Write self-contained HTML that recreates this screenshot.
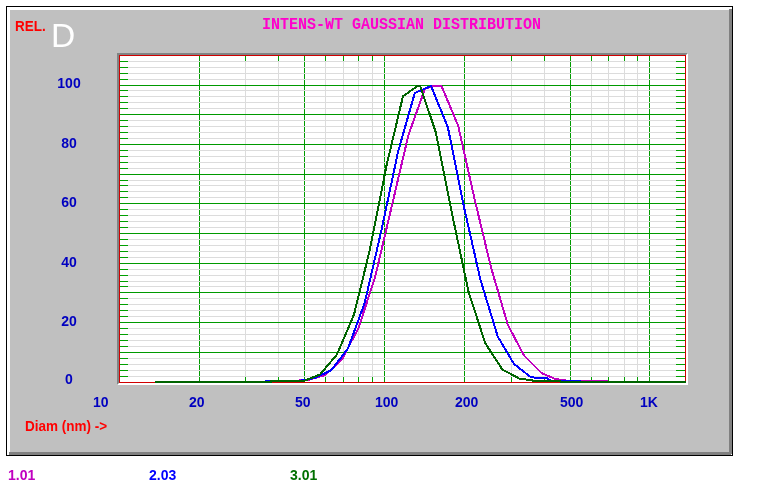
<!DOCTYPE html>
<html><head><meta charset="utf-8"><title>chart</title>
<style>
html,body{margin:0;padding:0;background:#fff;}
body{width:758px;height:496px;position:relative;overflow:hidden;font-family:"Liberation Sans",sans-serif;}
#frame{position:absolute;left:6px;top:6px;width:725px;height:448px;border:1px solid #000;background:#c0c0c0;}
.bv{position:absolute;}
#plotbevel{position:absolute;left:117px;top:53px;width:567px;height:328px;border-style:solid;border-width:2px;border-color:#808484 #fff #fff #808484;}
#plot{position:absolute;left:0;top:0;width:565px;height:326px;border:1px solid #d00000;background:#fff;}
svg{position:absolute;left:0;top:0;}
.t{position:absolute;white-space:nowrap;font-weight:bold;line-height:1;will-change:transform;-webkit-font-smoothing:antialiased;}
.b{color:#0000c0;font-size:14px;}
.r{color:#ff0000;font-size:13.5px;transform:scale(1,1.06);transform-origin:0 85%;}
</style></head><body>
<div id="frame"></div>
<div class="bv" style="left:729px;top:7px;width:3px;height:448px;background:#808080;"></div>
<div class="bv" style="left:7px;top:452px;width:725px;height:3px;background:#808080;"></div>
<div class="bv" style="left:7px;top:7px;width:725px;height:2px;background:#fff;"></div>
<div class="bv" style="left:7px;top:9px;width:722px;height:1px;background:#fff;"></div>
<div class="bv" style="left:7px;top:7px;width:2px;height:448px;background:#fff;"></div>
<div class="bv" style="left:9px;top:7px;width:1px;height:445px;background:#fff;"></div>
<div class="bv" style="left:731px;top:454px;width:1px;height:1px;background:#fff;"></div>
<div id="plotbevel"><div id="plot"></div></div>
<svg width="758" height="496" viewBox="0 0 758 496">
<g shape-rendering="crispEdges">
<rect x="245" y="56" width="1" height="326" fill="#dcdcdc"/>
<rect x="278" y="56" width="1" height="326" fill="#dcdcdc"/>
<rect x="325" y="56" width="1" height="326" fill="#dcdcdc"/>
<rect x="343" y="56" width="1" height="326" fill="#dcdcdc"/>
<rect x="358" y="56" width="1" height="326" fill="#dcdcdc"/>
<rect x="372" y="56" width="1" height="326" fill="#dcdcdc"/>
<rect x="511" y="56" width="1" height="326" fill="#dcdcdc"/>
<rect x="544" y="56" width="1" height="326" fill="#dcdcdc"/>
<rect x="591" y="56" width="1" height="326" fill="#dcdcdc"/>
<rect x="608" y="56" width="1" height="326" fill="#dcdcdc"/>
<rect x="624" y="56" width="1" height="326" fill="#dcdcdc"/>
<rect x="637" y="56" width="1" height="326" fill="#dcdcdc"/>
<rect x="199" y="56" width="1" height="326" fill="#009a00"/>
<rect x="304" y="56" width="1" height="326" fill="#009a00"/>
<rect x="384" y="56" width="1" height="326" fill="#009a00"/>
<rect x="464" y="56" width="1" height="326" fill="#009a00"/>
<rect x="570" y="56" width="1" height="326" fill="#009a00"/>
<rect x="649" y="56" width="1" height="326" fill="#009a00"/>
<rect x="120" y="376" width="565" height="1" fill="#dcdcdc"/>
<rect x="120" y="370" width="565" height="1" fill="#dcdcdc"/>
<rect x="120" y="364" width="565" height="1" fill="#dcdcdc"/>
<rect x="120" y="358" width="565" height="1" fill="#dcdcdc"/>
<rect x="120" y="346" width="565" height="1" fill="#dcdcdc"/>
<rect x="120" y="340" width="565" height="1" fill="#dcdcdc"/>
<rect x="120" y="334" width="565" height="1" fill="#dcdcdc"/>
<rect x="120" y="328" width="565" height="1" fill="#dcdcdc"/>
<rect x="120" y="316" width="565" height="1" fill="#dcdcdc"/>
<rect x="120" y="310" width="565" height="1" fill="#dcdcdc"/>
<rect x="120" y="304" width="565" height="1" fill="#dcdcdc"/>
<rect x="120" y="298" width="565" height="1" fill="#dcdcdc"/>
<rect x="120" y="286" width="565" height="1" fill="#dcdcdc"/>
<rect x="120" y="281" width="565" height="1" fill="#dcdcdc"/>
<rect x="120" y="275" width="565" height="1" fill="#dcdcdc"/>
<rect x="120" y="269" width="565" height="1" fill="#dcdcdc"/>
<rect x="120" y="257" width="565" height="1" fill="#dcdcdc"/>
<rect x="120" y="251" width="565" height="1" fill="#dcdcdc"/>
<rect x="120" y="245" width="565" height="1" fill="#dcdcdc"/>
<rect x="120" y="239" width="565" height="1" fill="#dcdcdc"/>
<rect x="120" y="227" width="565" height="1" fill="#dcdcdc"/>
<rect x="120" y="221" width="565" height="1" fill="#dcdcdc"/>
<rect x="120" y="215" width="565" height="1" fill="#dcdcdc"/>
<rect x="120" y="209" width="565" height="1" fill="#dcdcdc"/>
<rect x="120" y="197" width="565" height="1" fill="#dcdcdc"/>
<rect x="120" y="191" width="565" height="1" fill="#dcdcdc"/>
<rect x="120" y="185" width="565" height="1" fill="#dcdcdc"/>
<rect x="120" y="180" width="565" height="1" fill="#dcdcdc"/>
<rect x="120" y="168" width="565" height="1" fill="#dcdcdc"/>
<rect x="120" y="162" width="565" height="1" fill="#dcdcdc"/>
<rect x="120" y="156" width="565" height="1" fill="#dcdcdc"/>
<rect x="120" y="150" width="565" height="1" fill="#dcdcdc"/>
<rect x="120" y="138" width="565" height="1" fill="#dcdcdc"/>
<rect x="120" y="132" width="565" height="1" fill="#dcdcdc"/>
<rect x="120" y="126" width="565" height="1" fill="#dcdcdc"/>
<rect x="120" y="120" width="565" height="1" fill="#dcdcdc"/>
<rect x="120" y="108" width="565" height="1" fill="#dcdcdc"/>
<rect x="120" y="102" width="565" height="1" fill="#dcdcdc"/>
<rect x="120" y="96" width="565" height="1" fill="#dcdcdc"/>
<rect x="120" y="90" width="565" height="1" fill="#dcdcdc"/>
<rect x="120" y="79" width="565" height="1" fill="#dcdcdc"/>
<rect x="120" y="73" width="565" height="1" fill="#dcdcdc"/>
<rect x="120" y="67" width="565" height="1" fill="#dcdcdc"/>
<rect x="120" y="61" width="565" height="1" fill="#dcdcdc"/>
<rect x="245" y="56" width="1" height="5" fill="#00a000"/>
<rect x="245" y="377" width="1" height="5" fill="#00a000"/>
<rect x="278" y="56" width="1" height="5" fill="#00a000"/>
<rect x="278" y="377" width="1" height="5" fill="#00a000"/>
<rect x="325" y="56" width="1" height="5" fill="#00a000"/>
<rect x="325" y="377" width="1" height="5" fill="#00a000"/>
<rect x="343" y="56" width="1" height="5" fill="#00a000"/>
<rect x="343" y="377" width="1" height="5" fill="#00a000"/>
<rect x="358" y="56" width="1" height="5" fill="#00a000"/>
<rect x="358" y="377" width="1" height="5" fill="#00a000"/>
<rect x="372" y="56" width="1" height="5" fill="#00a000"/>
<rect x="372" y="377" width="1" height="5" fill="#00a000"/>
<rect x="511" y="56" width="1" height="5" fill="#00a000"/>
<rect x="511" y="377" width="1" height="5" fill="#00a000"/>
<rect x="544" y="56" width="1" height="5" fill="#00a000"/>
<rect x="544" y="377" width="1" height="5" fill="#00a000"/>
<rect x="591" y="56" width="1" height="5" fill="#00a000"/>
<rect x="591" y="377" width="1" height="5" fill="#00a000"/>
<rect x="608" y="56" width="1" height="5" fill="#00a000"/>
<rect x="608" y="377" width="1" height="5" fill="#00a000"/>
<rect x="624" y="56" width="1" height="5" fill="#00a000"/>
<rect x="624" y="377" width="1" height="5" fill="#00a000"/>
<rect x="637" y="56" width="1" height="5" fill="#00a000"/>
<rect x="637" y="377" width="1" height="5" fill="#00a000"/>
<rect x="120" y="376" width="8" height="1" fill="#00a000"/>
<rect x="676" y="376" width="9" height="1" fill="#00a000"/>
<rect x="120" y="370" width="8" height="1" fill="#00a000"/>
<rect x="676" y="370" width="9" height="1" fill="#00a000"/>
<rect x="120" y="364" width="8" height="1" fill="#00a000"/>
<rect x="676" y="364" width="9" height="1" fill="#00a000"/>
<rect x="120" y="358" width="8" height="1" fill="#00a000"/>
<rect x="676" y="358" width="9" height="1" fill="#00a000"/>
<rect x="120" y="346" width="8" height="1" fill="#00a000"/>
<rect x="676" y="346" width="9" height="1" fill="#00a000"/>
<rect x="120" y="340" width="8" height="1" fill="#00a000"/>
<rect x="676" y="340" width="9" height="1" fill="#00a000"/>
<rect x="120" y="334" width="8" height="1" fill="#00a000"/>
<rect x="676" y="334" width="9" height="1" fill="#00a000"/>
<rect x="120" y="328" width="8" height="1" fill="#00a000"/>
<rect x="676" y="328" width="9" height="1" fill="#00a000"/>
<rect x="120" y="316" width="8" height="1" fill="#00a000"/>
<rect x="676" y="316" width="9" height="1" fill="#00a000"/>
<rect x="120" y="310" width="8" height="1" fill="#00a000"/>
<rect x="676" y="310" width="9" height="1" fill="#00a000"/>
<rect x="120" y="304" width="8" height="1" fill="#00a000"/>
<rect x="676" y="304" width="9" height="1" fill="#00a000"/>
<rect x="120" y="298" width="8" height="1" fill="#00a000"/>
<rect x="676" y="298" width="9" height="1" fill="#00a000"/>
<rect x="120" y="286" width="8" height="1" fill="#00a000"/>
<rect x="676" y="286" width="9" height="1" fill="#00a000"/>
<rect x="120" y="281" width="8" height="1" fill="#00a000"/>
<rect x="676" y="281" width="9" height="1" fill="#00a000"/>
<rect x="120" y="275" width="8" height="1" fill="#00a000"/>
<rect x="676" y="275" width="9" height="1" fill="#00a000"/>
<rect x="120" y="269" width="8" height="1" fill="#00a000"/>
<rect x="676" y="269" width="9" height="1" fill="#00a000"/>
<rect x="120" y="257" width="8" height="1" fill="#00a000"/>
<rect x="676" y="257" width="9" height="1" fill="#00a000"/>
<rect x="120" y="251" width="8" height="1" fill="#00a000"/>
<rect x="676" y="251" width="9" height="1" fill="#00a000"/>
<rect x="120" y="245" width="8" height="1" fill="#00a000"/>
<rect x="676" y="245" width="9" height="1" fill="#00a000"/>
<rect x="120" y="239" width="8" height="1" fill="#00a000"/>
<rect x="676" y="239" width="9" height="1" fill="#00a000"/>
<rect x="120" y="227" width="8" height="1" fill="#00a000"/>
<rect x="676" y="227" width="9" height="1" fill="#00a000"/>
<rect x="120" y="221" width="8" height="1" fill="#00a000"/>
<rect x="676" y="221" width="9" height="1" fill="#00a000"/>
<rect x="120" y="215" width="8" height="1" fill="#00a000"/>
<rect x="676" y="215" width="9" height="1" fill="#00a000"/>
<rect x="120" y="209" width="8" height="1" fill="#00a000"/>
<rect x="676" y="209" width="9" height="1" fill="#00a000"/>
<rect x="120" y="197" width="8" height="1" fill="#00a000"/>
<rect x="676" y="197" width="9" height="1" fill="#00a000"/>
<rect x="120" y="191" width="8" height="1" fill="#00a000"/>
<rect x="676" y="191" width="9" height="1" fill="#00a000"/>
<rect x="120" y="185" width="8" height="1" fill="#00a000"/>
<rect x="676" y="185" width="9" height="1" fill="#00a000"/>
<rect x="120" y="180" width="8" height="1" fill="#00a000"/>
<rect x="676" y="180" width="9" height="1" fill="#00a000"/>
<rect x="120" y="168" width="8" height="1" fill="#00a000"/>
<rect x="676" y="168" width="9" height="1" fill="#00a000"/>
<rect x="120" y="162" width="8" height="1" fill="#00a000"/>
<rect x="676" y="162" width="9" height="1" fill="#00a000"/>
<rect x="120" y="156" width="8" height="1" fill="#00a000"/>
<rect x="676" y="156" width="9" height="1" fill="#00a000"/>
<rect x="120" y="150" width="8" height="1" fill="#00a000"/>
<rect x="676" y="150" width="9" height="1" fill="#00a000"/>
<rect x="120" y="138" width="8" height="1" fill="#00a000"/>
<rect x="676" y="138" width="9" height="1" fill="#00a000"/>
<rect x="120" y="132" width="8" height="1" fill="#00a000"/>
<rect x="676" y="132" width="9" height="1" fill="#00a000"/>
<rect x="120" y="126" width="8" height="1" fill="#00a000"/>
<rect x="676" y="126" width="9" height="1" fill="#00a000"/>
<rect x="120" y="120" width="8" height="1" fill="#00a000"/>
<rect x="676" y="120" width="9" height="1" fill="#00a000"/>
<rect x="120" y="108" width="8" height="1" fill="#00a000"/>
<rect x="676" y="108" width="9" height="1" fill="#00a000"/>
<rect x="120" y="102" width="8" height="1" fill="#00a000"/>
<rect x="676" y="102" width="9" height="1" fill="#00a000"/>
<rect x="120" y="96" width="8" height="1" fill="#00a000"/>
<rect x="676" y="96" width="9" height="1" fill="#00a000"/>
<rect x="120" y="90" width="8" height="1" fill="#00a000"/>
<rect x="676" y="90" width="9" height="1" fill="#00a000"/>
<rect x="120" y="79" width="8" height="1" fill="#00a000"/>
<rect x="676" y="79" width="9" height="1" fill="#00a000"/>
<rect x="120" y="73" width="8" height="1" fill="#00a000"/>
<rect x="676" y="73" width="9" height="1" fill="#00a000"/>
<rect x="120" y="67" width="8" height="1" fill="#00a000"/>
<rect x="676" y="67" width="9" height="1" fill="#00a000"/>
<rect x="120" y="61" width="8" height="1" fill="#00a000"/>
<rect x="676" y="61" width="9" height="1" fill="#00a000"/>
<rect x="120" y="352" width="565" height="1" fill="#009a00"/>
<rect x="120" y="322" width="565" height="1" fill="#009a00"/>
<rect x="120" y="292" width="565" height="1" fill="#009a00"/>
<rect x="120" y="263" width="565" height="1" fill="#009a00"/>
<rect x="120" y="233" width="565" height="1" fill="#009a00"/>
<rect x="120" y="203" width="565" height="1" fill="#009a00"/>
<rect x="120" y="174" width="565" height="1" fill="#009a00"/>
<rect x="120" y="144" width="565" height="1" fill="#009a00"/>
<rect x="120" y="114" width="565" height="1" fill="#009a00"/>
<rect x="120" y="85" width="565" height="1" fill="#009a00"/>
</g>
<g shape-rendering="crispEdges">
<polyline points="292.0,381.0 299.5,381.0 300.2,380.0 308.7,379.7 325.3,375.0 341.9,359.5 358.5,328.0 375.1,277.0 391.7,206.5 408.3,135.5 424.9,89.0 433.5,86.0 441.5,86.0 458.1,125.5 474.7,199.6 491.3,268.5 507.9,325.0 524.0,355.5 541.5,373.0 556.0,379.3 565.5,380.0 566.5,381.0 608.0,381.0" fill="none" stroke="#c000c0" stroke-width="2" stroke-linejoin="round" stroke-linecap="butt"/>
<polyline points="265.0,381.0 298.4,381.0 315.0,378.0 331.6,370.0 348.2,348.0 364.8,302.5 381.4,230.4 398.0,152.0 414.8,93.0 431.0,86.0 447.8,127.0 464.4,209.0 480.5,280.0 497.8,336.6 514.0,364.0 531.0,377.3 547.6,378.4 551.0,381.0 581.0,381.0" fill="none" stroke="#0000ff" stroke-width="2" stroke-linejoin="round" stroke-linecap="butt"/>
<polyline points="155.0,382.0 270.8,382.0 271.2,381.0 304.0,381.0 320.0,374.5 337.0,354.5 354.0,314.5 369.8,250.0 386.4,166.0 403.0,96.2 417.5,86.0 420.2,86.0 435.7,132.0 452.3,215.0 468.6,292.0 485.3,343.3 502.3,369.5 519.2,378.5 531.0,380.3 536.0,381.0 560.0,381.0 560.5,382.0 686.0,382.0" fill="none" stroke="#006400" stroke-width="2" stroke-linejoin="round" stroke-linecap="butt"/>
</g>
</svg>
<span class="t r" id="rel" style="left:15px;top:19.8px;">REL.</span>
<span class="t" id="bigd" style="left:51.3px;top:18.9px;font-size:33.6px;font-weight:normal;color:#fff;">D</span>
<span class="t" id="title" style="left:262px;top:16.5px;font-family:'Liberation Mono',monospace;font-size:15px;color:#ff00cc;transform:scale(1,1.1);transform-origin:0 0;">INTENS-WT GAUSSIAN DISTRIBUTION</span>
<span class="t b yl" style="left:49px;width:40px;text-align:center;top:76px;">100</span>
<span class="t b yl" style="left:49px;width:40px;text-align:center;top:136px;">80</span>
<span class="t b yl" style="left:49px;width:40px;text-align:center;top:195px;">60</span>
<span class="t b yl" style="left:49px;width:40px;text-align:center;top:255px;">40</span>
<span class="t b yl" style="left:49px;width:40px;text-align:center;top:314px;">20</span>
<span class="t b yl" style="left:49px;width:40px;text-align:center;top:372px;">0</span>
<span class="t b xl" style="left:93px;top:395px;">10</span>
<span class="t b xl" style="left:189px;top:395px;">20</span>
<span class="t b xl" style="left:295px;top:395px;">50</span>
<span class="t b xl" style="left:375px;top:395px;">100</span>
<span class="t b xl" style="left:455px;top:395px;">200</span>
<span class="t b xl" style="left:560px;top:395px;">500</span>
<span class="t b xl" style="left:640px;top:395px;">1K</span>
<span class="t r" id="diam" style="left:25px;top:420px;">Diam (nm) -&gt;</span>
<span class="t" id="l1" style="left:8px;top:468px;font-size:14px;color:#c000c0;">1.01</span>
<span class="t" id="l2" style="left:149px;top:468px;font-size:14px;color:#0000ff;">2.03</span>
<span class="t" id="l3" style="left:290px;top:468px;font-size:14px;color:#007000;">3.01</span>
</body></html>
